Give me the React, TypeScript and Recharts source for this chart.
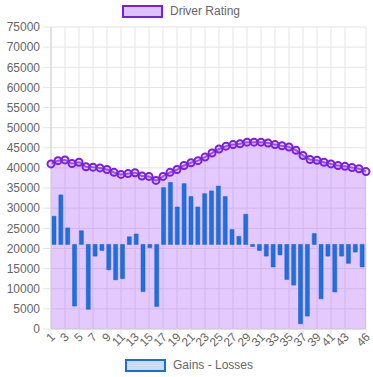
import React from "react";
import { Area, Bar, CartesianGrid, ComposedChart, XAxis, YAxis } from "recharts";

const races = Array.from({ length: 46 }, (_, i) => i + 1);

const driverRating = [
  41000, 41800, 42000, 41100, 41400, 40300, 40200, 40000, 39600, 38900,
  38400, 38600, 38800, 38000, 37900, 36900, 37900, 38900, 39600, 40600,
  41300, 41800, 42700, 43700, 44700, 45400, 45800, 46000, 46400, 46400,
  46400, 46200, 45800, 45500, 45200, 44400, 43100, 42100, 41900, 41400,
  41000, 40600, 40400, 40100, 39800, 39100
];

const gainsLosses = [
  28000, 33300, 25100, 5700, 24400, 4900, 18100, 19500, 14700, 12200,
  12500, 22900, 23600, 9300, 20200, 5600, 35100, 36400, 30300, 36100,
  32900, 30300, 33600, 34300, 35500, 32900, 24700, 23000, 28500, 20500,
  19500, 18100, 15400, 18400, 12300, 10900, 1300, 3200, 23700, 7500,
  18100, 9200, 18100, 16300, 19100, 15400
];

const gainsBase = 21000;

const xTicks = [1, 3, 5, 7, 9, 11, 13, 15, 17, 19, 21, 23, 25, 27, 29, 31, 33, 35, 37, 39, 41, 43, 46];
const yTicks = [0, 5000, 10000, 15000, 20000, 25000, 30000, 35000, 40000, 45000, 50000, 55000, 60000, 65000, 70000, 75000];

const font = "'Liberation Sans', Arial, Helvetica, sans-serif";

const data = races.map((race, i) => ({
  race,
  rating: driverRating[i],
  gains: [gainsBase, gainsLosses[i]]
}));

function LegendItem({ left, top, label, fill, stroke }: { left: number; top: number; label: string; fill: string; stroke: string }) {
  return (
    <div style={{ position: "absolute", left, top, display: "flex", alignItems: "center", fontFamily: font, fontSize: 12, color: "#666" }}>
      <div style={{ width: 37, height: 9, background: fill, border: `2px solid ${stroke}`, marginRight: 7 }} />
      <span>{label}</span>
    </div>
  );
}

function RotatedTick({ x, y, payload }: any) {
  return (
    <g transform={`translate(${x + 2},${y})`}>
      <text x={0} y={0} dy={4} textAnchor="end" transform="rotate(-45)" fill="#666" fontSize={12} fontFamily={font}>
        {payload.value}
      </text>
    </g>
  );
}

export default function App() {
  return (
    <div style={{ position: "absolute", left: 0, top: 0, width: 373, height: 377, background: "#fff" }}>
      <LegendItem left={122} top={4} label="Driver Rating" fill="#dcc3fb" stroke="#7a1fe0" />
      <ComposedChart
        width={373}
        height={377}
        data={data}
        margin={{ top: 27, right: 7, left: 0, bottom: 8 }}
        style={{ fontFamily: font }}
      >
        <CartesianGrid xAxisId="line" stroke="#e4e4e4" />
        <XAxis
          xAxisId="line"
          dataKey="race"
          type="number"
          domain={[1, 46]}
          ticks={xTicks}
          interval={0}
          height={40}
          tickSize={5}
          tickMargin={1}
          tick={<RotatedTick />}
          tickLine={{ stroke: "#e4e4e4" }}
          axisLine={{ stroke: "#d0d0d0" }}
        />
        <XAxis xAxisId="bar" dataKey="race" type="category" hide height={0} />
        <YAxis
          domain={[0, 75000]}
          ticks={yTicks}
          interval={0}
          width={51}
          tickSize={8}
          tickMargin={3}
          tick={{ fill: "#666", fontSize: 12 }}
          tickLine={{ stroke: "#e4e4e4" }}
          axisLine={{ stroke: "#d0d0d0" }}
        />
        <Area
          xAxisId="line"
          dataKey="rating"
          type="monotone"
          stroke="#7a1fe0"
          strokeWidth={2}
          fill="#a64dff"
          fillOpacity={0.3}
          baseValue={0}
          dot={{ r: 3.5, stroke: "#7a1fe0", strokeWidth: 2, fill: "#dcc3fb" }}
          isAnimationActive={false}
        />
        <Bar
          xAxisId="bar"
          dataKey="gains"
          barSize={4}
          fill="#1f6fdf"
          stroke="#1a5fc8"
          strokeWidth={0.5}
          isAnimationActive={false}
        />
      </ComposedChart>
      <LegendItem left={125} top={358} label="Gains - Losses" fill="#c8ddf8" stroke="#1a6fd6" />
    </div>
  );
}
